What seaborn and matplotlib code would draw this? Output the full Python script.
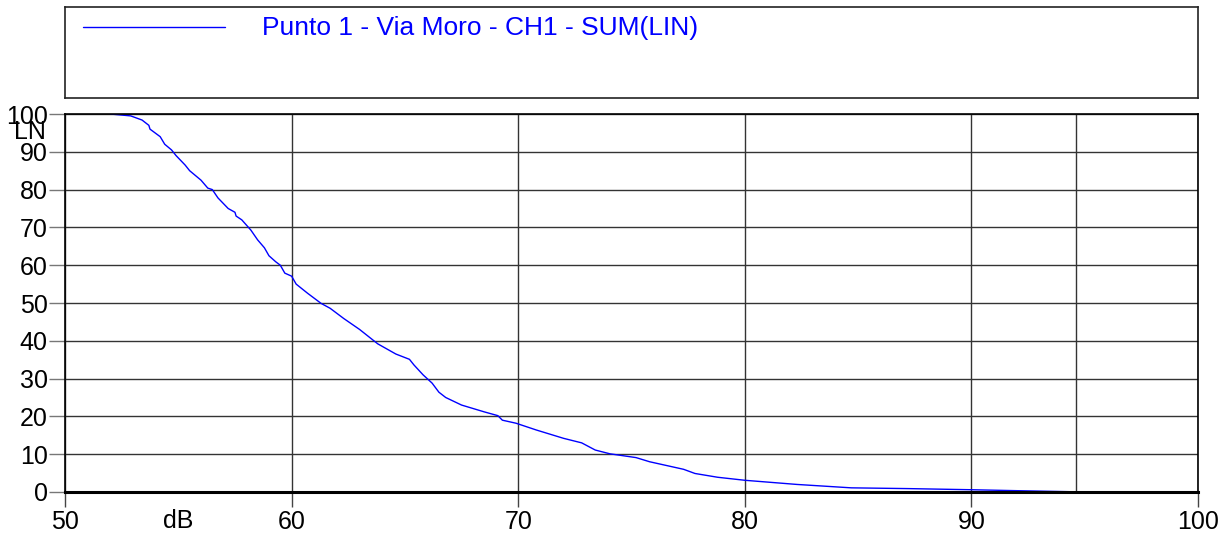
import matplotlib
matplotlib.use("Agg")
import matplotlib.pyplot as plt
import seaborn as sns
import pandas as pd

# Level distribution curve (LN vs dB)
level_db = [52.0, 52.9, 53.4, 53.7, 53.75, 54.2, 54.4, 54.7, 54.9, 55.3, 55.5, 56.0,
            56.3, 56.5, 56.75, 57.2, 57.5, 57.55, 57.8, 58.2, 58.5, 58.8, 59.0, 59.3,
            59.5, 59.7, 60.0, 60.2, 60.7, 61.3, 61.7, 62.3, 63.0, 63.4, 63.8, 64.6,
            65.2, 65.4, 65.8, 66.2, 66.5, 66.8, 67.5, 68.5, 69.1, 69.3, 69.9, 70.8,
            72.0, 72.8, 73.4, 74.05, 75.2, 75.8, 77.3, 77.8, 78.8, 80.0, 82.3, 84.7,
            87.2, 90.0, 92.0, 94.6]
ln_pct = [100.0, 99.5, 98.4, 97.0, 96.0, 94.0, 92.0, 90.5, 89.0, 86.5, 85.0, 82.5,
          80.4, 80.0, 77.8, 75.0, 74.0, 73.0, 72.0, 69.3, 66.7, 64.6, 62.5, 60.9,
          60.0, 57.9, 57.1, 55.0, 52.6, 49.9, 48.6, 45.9, 43.0, 41.1, 39.2, 36.5,
          35.1, 33.6, 31.0, 28.8, 26.4, 25.0, 23.0, 21.2, 20.2, 19.0, 18.2, 16.4,
          14.2, 13.0, 11.1, 10.1, 9.1, 8.0, 6.0, 4.9, 3.9, 3.1, 2.0, 1.1,
          0.9, 0.6, 0.35, 0.05]
max_level = 94.6
series_label = "Punto 1 - Via Moro - CH1 - SUM(LIN)"
x_ticks = [50, 60, 70, 80, 90, 100]
y_ticks = list(range(0, 101, 10))

sns.set_style("white")
plt.rcParams["font.family"] = ["Liberation Sans", "DejaVu Sans"]
plt.rcParams["text.color"] = "black"

df = pd.DataFrame({"dB": level_db, "LN": ln_pct})

fig = plt.figure(figsize=(12.29, 5.37), dpi=100)
ax = fig.add_axes([0.0529, 0.0838, 0.9219, 0.7039])
leg = fig.add_axes([0.0529, 0.8175, 0.9219, 0.1695])

sns.lineplot(data=df, x="dB", y="LN", ax=ax, color="#0000ff", lw=1, sort=False)
ax.axvline(max_level, color="#333333", lw=1, zorder=1)

ax.set_xlim(50, 100)
ax.set_ylim(0, 100)
ax.set_xticks(x_ticks)
ax.set_yticks(y_ticks)
ax.grid(True, color="#333333", lw=1)
ax.set_axisbelow(True)
for s in ["left", "right", "top"]:
    ax.spines[s].set_color("black")
    ax.spines[s].set_linewidth(1.2)
ax.spines["bottom"].set_color("black")
ax.spines["bottom"].set_linewidth(2.2)
ax.tick_params(axis="x", length=11, width=1, color="#444444", pad=2, labelsize=18,
               labelcolor="black", direction="out")
ax.tick_params(axis="y", length=11.5, width=1, color="#777777", pad=1, labelsize=18,
               labelcolor="black", direction="out")
ax.tick_params(bottom=True, left=True)

ax.set_xlabel("dB", fontsize=18, color="black")
ax.xaxis.set_label_coords(0.0997, -0.077)
ax.xaxis.label.set_va("center")
ax.set_ylabel("LN", fontsize=18, rotation=0, va="center", ha="center", color="black")
ax.yaxis.set_label_coords(-0.031, 0.952)

# legend panel
leg.set_xlim(0, 1)
leg.set_ylim(0, 1)
leg.set_xticks([])
leg.set_yticks([])
for s in leg.spines.values():
    s.set_color("#222222")
    s.set_linewidth(1.2)
leg.plot([0.016, 0.141], [0.78, 0.78], color="#0000ff", lw=1)
leg.text(0.174, 0.77, series_label, color="#0000ff", fontsize=19, va="center", ha="left")

fig.savefig("out.png", dpi=100)
